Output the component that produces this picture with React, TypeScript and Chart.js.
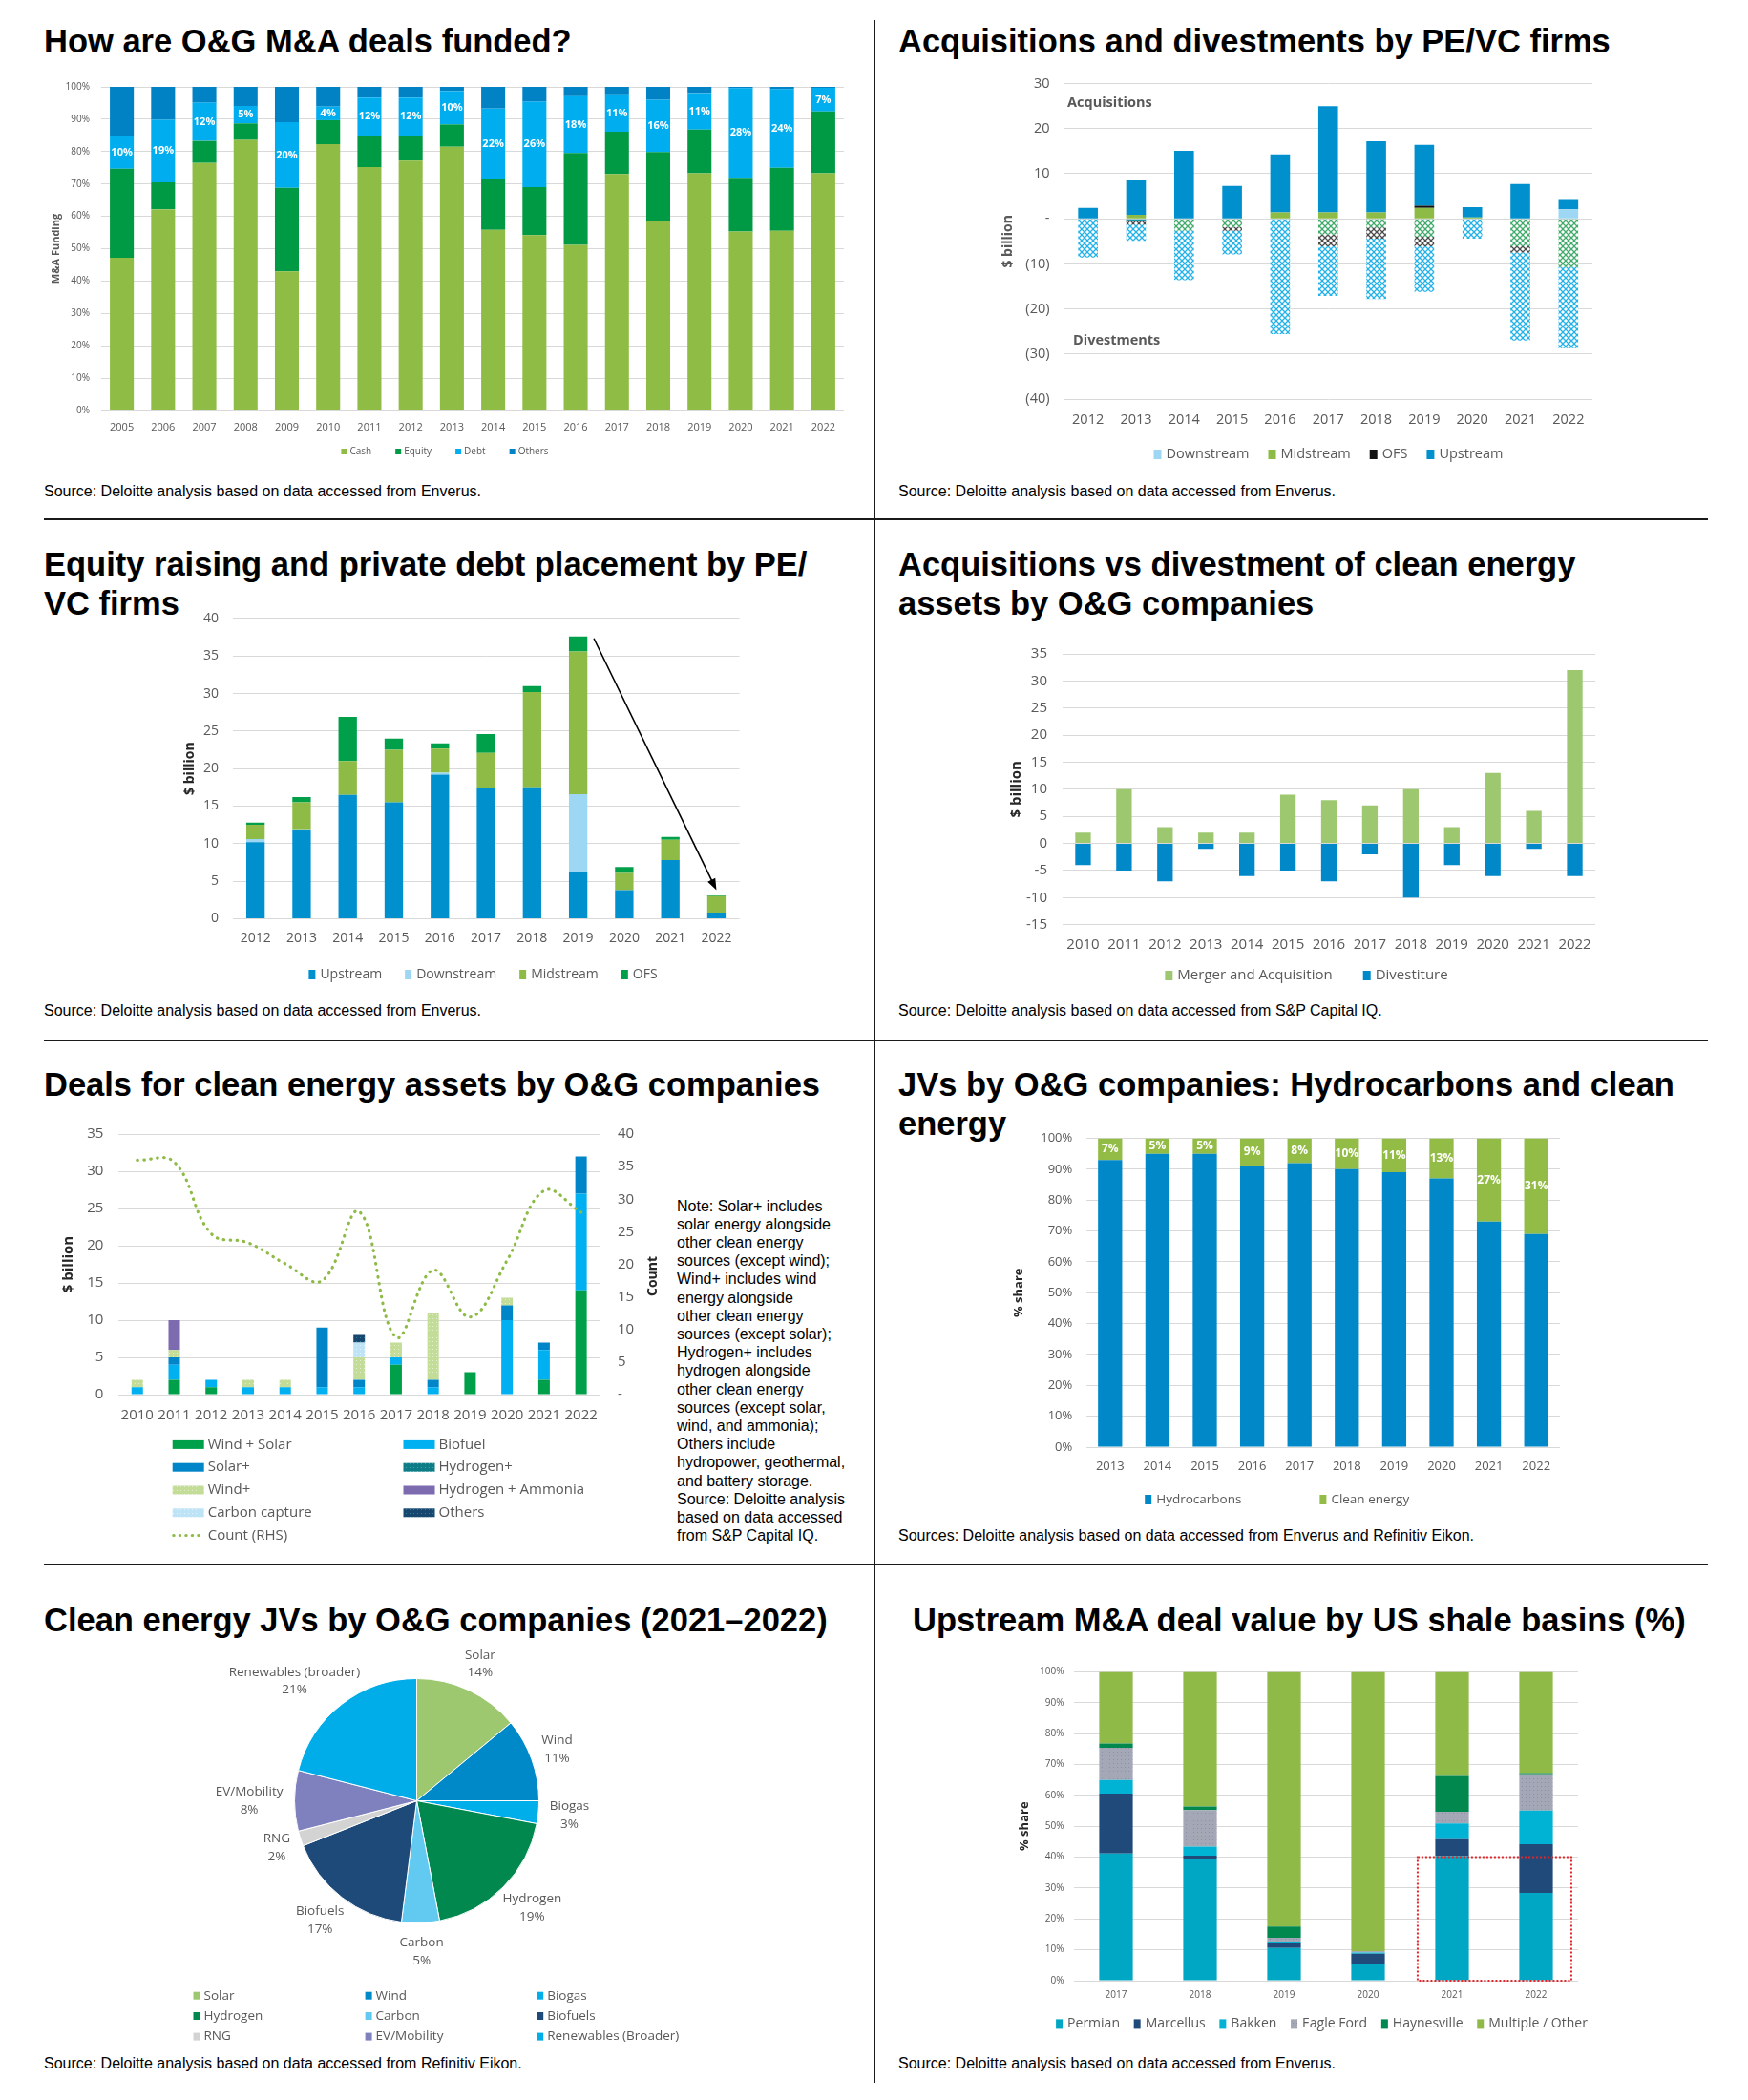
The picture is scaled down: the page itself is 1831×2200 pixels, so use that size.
import React, { useEffect, useRef } from 'react';
import { Chart, registerables } from 'chart.js';

Chart.register(...registerables);

const FONT = '"Open Sans", "Noto Sans", sans-serif';
Chart.defaults.font.family = FONT;

const TICK = '#595959';
const GRID = '#D9D9D9';
const AXT = '#262626';

// ---------------- Chart 1: How are O&G M&A deals funded? ----------------
const fundYears = ['2005', '2006', '2007', '2008', '2009', '2010', '2011', '2012', '2013', '2014', '2015', '2016', '2017', '2018', '2019', '2020', '2021', '2022'];
const fundCash = [47.2, 62.2, 76.5, 83.6, 43.0, 82.3, 75.2, 77.2, 81.5, 55.8, 54.2, 51.2, 73.1, 58.4, 73.3, 55.3, 55.5, 73.3];
const fundEquity = [27.5, 8.3, 6.8, 5.1, 25.8, 7.4, 9.7, 7.6, 6.9, 15.7, 14.8, 28.4, 13.0, 21.5, 13.5, 16.6, 19.5, 19.1];
const fundDebt = [10.1, 19.3, 11.8, 5.4, 20.3, 4.2, 11.8, 11.9, 10.3, 21.8, 26.4, 17.5, 11.3, 16.1, 11.3, 27.7, 24.3, 7.3];
const fundOthers = [15.2, 10.2, 4.9, 5.9, 10.9, 6.1, 3.3, 3.3, 1.3, 6.7, 4.6, 2.9, 2.6, 4.0, 1.9, 0.4, 0.7, 0.3];
const fundDebtLabels = ['10%', '19%', '12%', '5%', '20%', '4%', '12%', '12%', '10%', '22%', '26%', '18%', '11%', '16%', '11%', '28%', '24%', '7%'];

// ---------------- Chart 2: Acquisitions and divestments by PE/VC firms ----------------
const peYears = ['2012', '2013', '2014', '2015', '2016', '2017', '2018', '2019', '2020', '2021', '2022'];
const acqDownstream = [0, 0, 0, 0, 0, 0, 0, 0, 0, 0, 2.1];
const acqMidstream = [0, 0.9, 0, 0, 1.4, 1.4, 1.4, 2.4, 0.3, 0, 0];
const acqOFS = [0, 0, 0, 0, 0, 0, 0, 0.5, 0, 0, 0];
const acqUpstream = [2.4, 7.6, 15.1, 7.3, 12.9, 23.6, 15.8, 13.5, 2.3, 7.7, 2.3];
const divDownstream = [0, -0.6, 0, 0, 0, 0, 0, 0, 0, 0, 0];
const divMidstream = [0, 0, -2.6, -1.8, 0, -3.5, -1.9, -4.0, 0, -6.1, -10.7];
const divOFS = [0, -0.7, 0, -0.85, 0, -2.6, -2.5, -2.1, 0, -1.4, 0];
const divUpstream = [-8.6, -3.6, -11.0, -5.25, -25.6, -11.0, -13.4, -10.1, -4.4, -19.5, -18.0];

// ---------------- Chart 3: Equity raising and private debt placement ----------------
const raiseYears = ['2012', '2013', '2014', '2015', '2016', '2017', '2018', '2019', '2020', '2021', '2022'];
const raiseUpstream = [10.2, 11.8, 16.5, 15.5, 19.2, 17.4, 17.5, 6.2, 3.8, 7.8, 0.8];
const raiseDownstream = [0.4, 0.1, 0, 0, 0.25, 0, 0, 10.4, 0, 0, 0];
const raiseMidstream = [1.9, 3.6, 4.5, 7.0, 3.2, 4.7, 12.7, 19.0, 2.3, 2.7, 2.2];
const raiseOFS = [0.3, 0.7, 5.9, 1.5, 0.7, 2.5, 0.8, 2.0, 0.8, 0.4, 0.1];

// ---------------- Chart 4: Acquisitions vs divestment of clean energy assets ----------------
const cleanYears = ['2010', '2011', '2012', '2013', '2014', '2015', '2016', '2017', '2018', '2019', '2020', '2021', '2022'];
const cleanMA = [2, 10, 3, 2, 2, 9, 8, 7, 10, 3, 13, 6, 32];
const cleanDiv = [-4, -5, -7, -1, -6, -5, -7, -2, -10, -4, -6, -1, -6];

// ---------------- Chart 5: Deals for clean energy assets ----------------
const dealYears = ['2010', '2011', '2012', '2013', '2014', '2015', '2016', '2017', '2018', '2019', '2020', '2021', '2022'];
const dealWindSolar = [0, 2, 1, 0, 0, 0, 0, 4, 0, 3, 0, 2, 14];
const dealBiofuel = [1, 2, 1, 1, 1, 1, 1, 1, 1, 0, 10, 4, 13];
const dealSolarPlus = [0, 1, 0, 0, 0, 8, 1, 0, 1, 0, 2, 1, 5];
const dealHydrogenPlus = [0, 0, 0, 0, 0, 0, 0, 0, 0, 0, 0, 0, 0];
const dealWindPlus = [1, 1, 0, 1, 1, 0, 3, 2, 9, 0, 1, 0, 0];
const dealH2Ammonia = [0, 4, 0, 0, 0, 0, 0, 0, 0, 0, 0, 0, 0];
const dealCarbon = [0, 0, 0, 0, 0, 0, 2, 0, 0, 0, 0, 0, 0];
const dealOthers = [0, 0, 0, 0, 0, 0, 1, 0, 0, 0, 0, 0, 0];
const dealCount = [36, 35.7, 24.7, 23.3, 20.1, 17.5, 28.1, 8.8, 19.1, 11.9, 20.6, 31.3, 28.0];

// ---------------- Chart 6: JVs by O&G companies ----------------
const jvYears = ['2013', '2014', '2015', '2016', '2017', '2018', '2019', '2020', '2021', '2022'];
const jvHydro = [93, 95, 95, 91, 92, 90, 89, 87, 73, 69];
const jvClean = [7, 5, 5, 9, 8, 10, 11, 13, 27, 31];

// ---------------- Chart 7: Clean energy JVs (2021-2022) ----------------
const pieLabels = ['Solar', 'Wind', 'Biogas', 'Hydrogen', 'Carbon', 'Biofuels', 'RNG', 'EV/Mobility', 'Renewables (broader)'];
const pieLegendLabels = ['Solar', 'Wind', 'Biogas', 'Hydrogen', 'Carbon', 'Biofuels', 'RNG', 'EV/Mobility', 'Renewables (Broader)'];
const pieValues = [14, 11, 3, 19, 5, 17, 2, 8, 21];
const pieColors = ['#9DC870', '#0089C9', '#00AEEA', '#00884E', '#62CAF0', '#1E4A7A', '#D3D3D3', '#7F81BF', '#00ADE8'];

// ---------------- Chart 8: Upstream M&A deal value by US shale basins ----------------
const basinYears = ['2017', '2018', '2019', '2020', '2021', '2022'];
const basinPermian = [41.2, 39.5, 10.6, 5.3, 40.3, 28.4];
const basinMarcellus = [19.4, 1.0, 1.5, 3.4, 5.5, 15.8];
const basinBakken = [4.4, 2.9, 0.6, 0.4, 5.1, 10.9];
const basinEagleFord = [10.4, 11.8, 1.2, 0.5, 3.8, 11.7];
const basinHaynesville = [1.4, 1.2, 3.6, 0, 11.6, 0.4];
const basinOther = [23.2, 43.6, 82.5, 90.4, 33.7, 32.8];

// ====================== helpers ======================
type Box = { x: number; y: number; w: number; h: number };
type Plot = { l: number; t: number; r: number; b: number };
type YOpt = {
  min: number; max: number; step: number; size: number; pad: number;
  fmt?: (v: number) => string;
  title?: { text: string; size: number; x: number; color: string };
};

function hatch(color: string, size = 6, lw = 1.3): any {
  const c = document.createElement('canvas');
  c.width = size; c.height = size;
  const g = c.getContext('2d');
  if (!g) return color;
  g.fillStyle = '#ffffff'; g.fillRect(0, 0, size, size);
  g.strokeStyle = color; g.lineWidth = lw;
  g.beginPath();
  g.moveTo(-1, -1); g.lineTo(size + 1, size + 1);
  g.moveTo(size + 1, -1); g.lineTo(-1, size + 1);
  g.stroke();
  return g.createPattern(c, 'repeat') || color;
}

function dots(bg: string, fg: string, size = 4): any {
  const c = document.createElement('canvas');
  c.width = size; c.height = size;
  const g = c.getContext('2d');
  if (!g) return bg;
  g.fillStyle = bg; g.fillRect(0, 0, size, size);
  g.fillStyle = fg; g.fillRect(1, 1, 1, 1);
  return g.createPattern(c, 'repeat') || bg;
}

function valueAxis(y: YOpt, width: number, originX: number, position: string, stacked: boolean) {
  const ticks: any = { stepSize: y.step, color: TICK, padding: y.pad, font: { size: y.size, family: FONT } };
  if (y.fmt) { const f = y.fmt; ticks.callback = (v: any) => f(Number(v)); }
  const ax: any = {
    type: 'linear', position, stacked, min: y.min, max: y.max,
    grid: { display: position === 'left', color: GRID, lineWidth: 1, drawTicks: false },
    border: { display: false },
    ticks,
    afterFit: (s: any) => { s.width = width; },
  };
  if (y.title) {
    const lh = y.title.size * 1.2;
    const off = position === 'left' ? y.title.x - originX - lh / 2 : originX - y.title.x - lh / 2;
    ax.title = { display: true, text: y.title.text, color: y.title.color, font: { size: y.title.size, weight: 'bold', family: FONT }, padding: { top: off, bottom: 0 } };
  }
  return ax;
}

function catAxis(size: number, pad: number, height: number) {
  return {
    type: 'category', stacked: true,
    grid: { display: false, drawTicks: false }, border: { display: false },
    ticks: { color: TICK, padding: pad, font: { size, family: FONT }, maxRotation: 0, minRotation: 0, autoSkip: false },
    afterFit: (s: any) => { s.height = height; },
  };
}

function barChart(box: Box, plot: Plot, labels: string[], datasets: any[], xs: { size: number; pad: number }, y: YOpt, plugins: any[], y1?: { opt: YOpt; w: number }) {
  const scales: any = {
    x: catAxis(xs.size, xs.pad, box.y + box.h - plot.b),
    y: valueAxis(y, plot.l - box.x, box.x, 'left', true),
  };
  let rw = 0;
  if (y1) { rw = y1.w; scales.y1 = valueAxis(y1.opt, y1.w, box.x + box.w, 'right', false); }
  return {
    type: 'bar',
    data: { labels, datasets },
    options: {
      responsive: false, animation: false, events: [],
      layout: { padding: { left: 0, top: plot.t - box.y, right: box.x + box.w - plot.r - rw, bottom: 0 } },
      plugins: { legend: { display: false }, tooltip: { enabled: false }, title: { display: false } },
      scales,
    },
    plugins,
  };
}

type LItem = { text: string; fill?: any; line?: { color: string; dash: number[]; width: number } };
type LOpt = { origin: [number, number]; size: number; box: [number, number]; tg: number; gap?: number; cx?: number; cy?: number; cols?: number[]; rows?: number[] };

function legendPlugin(items: LItem[], o: LOpt) {
  return {
    id: 'pageLegend',
    afterDraw(chart: any) {
      const ctx = chart.ctx;
      ctx.save();
      ctx.font = `${o.size}px ${FONT}`;
      ctx.textBaseline = 'middle';
      ctx.textAlign = 'left';
      const [bw, bh] = o.box;
      const draw = (it: LItem, x: number, y: number) => {
        if (it.line) {
          ctx.save();
          ctx.strokeStyle = it.line.color; ctx.lineWidth = it.line.width; ctx.lineCap = 'round';
          ctx.setLineDash(it.line.dash);
          ctx.beginPath(); ctx.moveTo(x + 1, y); ctx.lineTo(x + bw, y); ctx.stroke();
          ctx.restore();
        } else {
          ctx.fillStyle = it.fill; ctx.fillRect(x, y - bh / 2, bw, bh);
        }
        ctx.fillStyle = TICK;
        ctx.fillText(it.text, x + bw + o.tg, y);
      };
      if (o.cols && o.rows) {
        const n = o.cols.length;
        items.forEach((it, i) => draw(it, o.cols![i % n] - o.origin[0], o.rows![Math.floor(i / n)] - o.origin[1]));
      } else {
        const gap = o.gap || 0;
        const widths = items.map((it) => bw + o.tg + ctx.measureText(it.text).width);
        const total = widths.reduce((a, b) => a + b, 0) + gap * (items.length - 1);
        let x = (o.cx || 0) - o.origin[0] - total / 2;
        const y = (o.cy || 0) - o.origin[1];
        items.forEach((it, i) => { draw(it, x, y); x += widths[i] + gap; });
      }
      ctx.restore();
    },
  };
}

function segLabels(dsIndex: number, labels: string[], size: number) {
  return {
    id: 'segLabels',
    afterDatasetsDraw(chart: any) {
      const meta = chart.getDatasetMeta(dsIndex);
      const ctx = chart.ctx;
      ctx.save();
      ctx.font = `bold ${size}px ${FONT}`;
      ctx.fillStyle = '#ffffff';
      ctx.textAlign = 'center';
      ctx.textBaseline = 'middle';
      meta.data.forEach((el: any, i: number) => {
        const p = el.getProps(['x', 'y', 'base'], true);
        ctx.fillText(labels[i], p.x, (p.y + p.base) / 2);
      });
      ctx.restore();
    },
  };
}

function textPlugin(origin: [number, number], items: { text: string; x: number; y: number; font: string; color: string; rot?: number; align?: string }[]) {
  return {
    id: 'pageTexts',
    afterDraw(chart: any) {
      const ctx = chart.ctx;
      items.forEach((t) => {
        ctx.save();
        ctx.font = t.font; ctx.fillStyle = t.color;
        ctx.textAlign = t.align || 'center'; ctx.textBaseline = 'middle';
        ctx.translate(t.x - origin[0], t.y - origin[1]);
        if (t.rot) ctx.rotate(t.rot);
        ctx.fillText(t.text, 0, 0);
        ctx.restore();
      });
    },
  };
}

function annotPlugin(items: { text: string; value: number; dx: number }[], font: string, color: string) {
  return {
    id: 'annot',
    afterDraw(chart: any) {
      const ctx = chart.ctx;
      ctx.save();
      ctx.font = font; ctx.fillStyle = color; ctx.textAlign = 'left'; ctx.textBaseline = 'middle';
      items.forEach((t) => ctx.fillText(t.text, chart.chartArea.left + t.dx, chart.scales.y.getPixelForValue(t.value)));
      ctx.restore();
    },
  };
}

function arrowPlugin(from: number, to: number, tops: number[]) {
  return {
    id: 'arrow',
    afterDatasetsDraw(chart: any) {
      const xs = chart.scales.x, ys = chart.scales.y, ctx = chart.ctx;
      const step = xs.getPixelForValue(1) - xs.getPixelForValue(0);
      const x0 = xs.getPixelForValue(from) + step * 0.34;
      const y0 = ys.getPixelForValue(tops[from]) + 2;
      const x1 = xs.getPixelForValue(to);
      const y1 = ys.getPixelForValue(tops[to] + 0.7);
      const a = Math.atan2(y1 - y0, x1 - x0);
      const L = 12, W = 4.5, c = Math.cos(a), s = Math.sin(a);
      ctx.save();
      ctx.strokeStyle = '#000'; ctx.lineWidth = 1.6;
      ctx.beginPath(); ctx.moveTo(x0, y0); ctx.lineTo(x1 - L * 0.8 * c, y1 - L * 0.8 * s); ctx.stroke();
      ctx.fillStyle = '#000';
      ctx.beginPath();
      ctx.moveTo(x1, y1);
      ctx.lineTo(x1 - L * c - W * s, y1 - L * s + W * c);
      ctx.lineTo(x1 - L * c + W * s, y1 - L * s - W * c);
      ctx.closePath(); ctx.fill();
      ctx.restore();
    },
  };
}

function dashedRect(i0: number, i1: number, v0: number, v1: number) {
  return {
    id: 'dashedRect',
    afterDatasetsDraw(chart: any) {
      const xs = chart.scales.x, ys = chart.scales.y, ctx = chart.ctx;
      const step = xs.getPixelForValue(1) - xs.getPixelForValue(0);
      const xa = xs.getPixelForValue(i0) - 0.41 * step;
      const xb = xs.getPixelForValue(i1) + 0.42 * step;
      const ya = ys.getPixelForValue(v1);
      const yb = ys.getPixelForValue(v0);
      ctx.save();
      ctx.strokeStyle = '#E0262B'; ctx.lineWidth = 2; ctx.setLineDash([2, 2]);
      ctx.strokeRect(xa, ya, xb - xa, yb - ya);
      ctx.restore();
    },
  };
}

function pieLabelPlugin(names: string[], values: number[], size: number) {
  return {
    id: 'pieLabels',
    afterDatasetsDraw(chart: any) {
      const meta = chart.getDatasetMeta(0);
      const ctx = chart.ctx;
      ctx.save();
      ctx.font = `${size}px ${FONT}`;
      ctx.fillStyle = TICK; ctx.textAlign = 'center'; ctx.textBaseline = 'middle';
      meta.data.forEach((el: any, i: number) => {
        const p = el.getProps(['x', 'y', 'startAngle', 'endAngle', 'outerRadius'], true);
        const a = (p.startAngle + p.endAngle) / 2;
        const c = Math.cos(a), s = Math.sin(a);
        const l1 = names[i], l2 = values[i] + '%';
        const w = Math.max(ctx.measureText(l1).width, ctx.measureText(l2).width);
        const h = 37;
        const R = p.outerRadius + 12;
        const cx = p.x + R * c + (w / 2) * c;
        const cy = p.y + R * s + (h / 2) * s;
        ctx.fillText(l1, cx, cy - 9.3);
        ctx.fillText(l2, cx, cy + 9.3);
      });
      ctx.restore();
    },
  };
}

const pct = (v: number) => v + '%';
const dsItems = (ds: any[]) => ds.map((d) => ({ text: d.label, fill: d.backgroundColor }));

// ====================== chart factories ======================
const c1Box: Box = { x: 0, y: 70, w: 916, h: 420 };
function makeC1() {
  const ds = [
    { label: 'Cash', data: fundCash, backgroundColor: '#8FBC45' },
    { label: 'Equity', data: fundEquity, backgroundColor: '#009A44' },
    { label: 'Debt', data: fundDebt, backgroundColor: '#00AEEF' },
    { label: 'Others', data: fundOthers, backgroundColor: '#0082C4' },
  ].map((d) => ({ ...d, barPercentage: 0.58, categoryPercentage: 1, borderWidth: 0 }));
  return barChart(c1Box, { l: 106, t: 91, r: 884, b: 430 }, fundYears, ds, { size: 11, pad: 11.4 },
    { min: 0, max: 100, step: 10, size: 10, pad: 12, fmt: pct, title: { text: 'M&A Funding', size: 11, x: 59, color: TICK } },
    [segLabels(2, fundDebtLabels, 11), legendPlugin(dsItems(ds), { origin: [c1Box.x, c1Box.y], size: 10, box: [6, 6], tg: 3, gap: 25, cx: 466, cy: 473 })]);
}

const c2Box: Box = { x: 917, y: 60, w: 914, h: 430 };
function makeC2() {
  const pos = [
    { label: 'Downstream', data: acqDownstream, backgroundColor: '#9DD7F3' },
    { label: 'Midstream', data: acqMidstream, backgroundColor: '#8DBB45' },
    { label: 'OFS', data: acqOFS, backgroundColor: '#111111' },
    { label: 'Upstream', data: acqUpstream, backgroundColor: '#0090CD' },
  ];
  const neg = [
    { label: 'Downstream divestments', data: divDownstream, backgroundColor: '#1597A9' },
    { label: 'Midstream divestments', data: divMidstream, backgroundColor: hatch('#3FAA6A') },
    { label: 'OFS divestments', data: divOFS, backgroundColor: hatch('#4A4A4A') },
    { label: 'Upstream divestments', data: divUpstream, backgroundColor: hatch('#22B2E8') },
  ];
  const ds = [...pos, ...neg].map((d) => ({ ...d, stack: 's', barPercentage: 0.41, categoryPercentage: 1, borderWidth: 0 }));
  return barChart(c2Box, { l: 1114.5, t: 87.6, r: 1668, b: 418 }, peYears, ds, { size: 14.5, pad: 13.6 },
    {
      min: -40, max: 30, step: 10, size: 14.5, pad: 15,
      fmt: (v) => (v === 0 ? '-' : v < 0 ? `(${-v})` : `${v}`),
      title: { text: '$ billion', size: 14, x: 1056, color: TICK },
    },
    [
      annotPlugin([{ text: 'Acquisitions', value: 25.6, dx: 3.5 }, { text: 'Divestments', value: -27, dx: 9.5 }], `bold 14.5px ${FONT}`, TICK),
      legendPlugin(dsItems(pos), { origin: [c2Box.x, c2Box.y], size: 14.5, box: [8, 10], tg: 5, gap: 20, cx: 1391.5, cy: 476 }),
    ]);
}

const c3Box: Box = { x: 0, y: 625, w: 916, h: 410 };
function makeC3() {
  const ds = [
    { label: 'Upstream', data: raiseUpstream, backgroundColor: '#0090CD' },
    { label: 'Downstream', data: raiseDownstream, backgroundColor: '#9DD7F3' },
    { label: 'Midstream', data: raiseMidstream, backgroundColor: '#8DBB45' },
    { label: 'OFS', data: raiseOFS, backgroundColor: '#00A04A' },
  ].map((d) => ({ ...d, barPercentage: 0.40, categoryPercentage: 1, borderWidth: 0 }));
  const tops = raiseYears.map((_, i) => raiseUpstream[i] + raiseDownstream[i] + raiseMidstream[i] + raiseOFS[i]);
  return barChart(c3Box, { l: 243.5, t: 644.3, r: 774.6, b: 962.4 }, raiseYears, ds, { size: 14, pad: 12.2 },
    { min: 0, max: 40, step: 5, size: 14, pad: 14.5, title: { text: '$ billion', size: 14, x: 199.5, color: AXT } },
    [arrowPlugin(7, 10, tops), legendPlugin(dsItems(ds), { origin: [c3Box.x, c3Box.y], size: 14, box: [7, 10], tg: 5, gap: 24, cx: 506, cy: 1021 })]);
}

const c4Box: Box = { x: 917, y: 660, w: 914, h: 375 };
function makeC4() {
  const ds = [
    { label: 'Merger and Acquisition', data: cleanMA, backgroundColor: '#9DC870' },
    { label: 'Divestiture', data: cleanDiv, backgroundColor: '#0088C8' },
  ].map((d) => ({ ...d, barPercentage: 0.38, categoryPercentage: 1, borderWidth: 0 }));
  return barChart(c4Box, { l: 1113, t: 680, r: 1671, b: 968.7 }, cleanYears, ds, { size: 15, pad: 12.3 },
    { min: -15, max: 35, step: 5, size: 15, pad: 16, title: { text: '$ billion', size: 15, x: 1065, color: AXT } },
    [legendPlugin(dsItems(ds), { origin: [c4Box.x, c4Box.y], size: 15, box: [8, 10], tg: 5, gap: 32, cx: 1368.5, cy: 1022 })]);
}

const c5Box: Box = { x: 0, y: 1160, w: 710, h: 465 };
function makeC5() {
  const bars = [
    { label: 'Wind + Solar', data: dealWindSolar, backgroundColor: '#00A04A' },
    { label: 'Biofuel', data: dealBiofuel, backgroundColor: '#00B0F0' },
    { label: 'Solar+', data: dealSolarPlus, backgroundColor: '#0085C8' },
    { label: 'Hydrogen+', data: dealHydrogenPlus, backgroundColor: dots('#0E7C86', '#3FA6AE') },
    { label: 'Wind+', data: dealWindPlus, backgroundColor: dots('#C3DC98', '#E4EFD0') },
    { label: 'Hydrogen + Ammonia', data: dealH2Ammonia, backgroundColor: '#7C6BAF' },
    { label: 'Carbon capture', data: dealCarbon, backgroundColor: dots('#BDE3F6', '#E3F3FB') },
    { label: 'Others', data: dealOthers, backgroundColor: dots('#17466E', '#2F7E9C') },
  ].map((d) => ({ ...d, order: 1, barPercentage: 0.31, categoryPercentage: 1, borderWidth: 0 }));
  const lineColor = '#8DBB45';
  const lineDash = [0.5, 6.5];
  const line = {
    type: 'line', label: 'Count (RHS)', data: dealCount, yAxisID: 'y1', order: 0,
    borderColor: lineColor, borderWidth: 3.2, borderDash: lineDash, borderCapStyle: 'round',
    pointRadius: 0, tension: 0.4, fill: false, backgroundColor: lineColor,
  };
  const items: LItem[] = [...dsItems(bars), { text: 'Count (RHS)', line: { color: lineColor, dash: [0.5, 6], width: 3 } }];
  return barChart(c5Box, { l: 124.4, t: 1179, r: 628, b: 1461 }, dealYears, [...bars, line], { size: 15, pad: 12.6 },
    { min: 0, max: 35, step: 5, size: 15, pad: 16, title: { text: '$ billion', size: 15, x: 71.6, color: AXT } },
    [
      textPlugin([c5Box.x, c5Box.y], [{ text: 'Count', x: 683.7, y: 1337, font: `bold 14px ${FONT}`, color: AXT, rot: -Math.PI / 2 }]),
      legendPlugin(items, { origin: [c5Box.x, c5Box.y], size: 15, box: [33, 9], tg: 4, cols: [180.7, 422.5], rows: [1513.4, 1537.2, 1561, 1584.8, 1608.6] }),
    ],
    { opt: { min: 0, max: 40, step: 5, size: 15, pad: 19, fmt: (v) => (v === 0 ? '-' : `${v}`) }, w: 82 });
}

const c6Box: Box = { x: 917, y: 1170, w: 914, h: 415 };
function makeC6() {
  const ds = [
    { label: 'Hydrocarbons', data: jvHydro, backgroundColor: '#0088C8' },
    { label: 'Clean energy', data: jvClean, backgroundColor: '#92BC46' },
  ].map((d) => ({ ...d, barPercentage: 0.51, categoryPercentage: 1, borderWidth: 0 }));
  return barChart(c6Box, { l: 1138, t: 1189.7, r: 1634, b: 1516 }, jvYears, ds, { size: 13, pad: 12.2 },
    { min: 0, max: 100, step: 10, size: 13, pad: 14.7, fmt: pct, title: { text: '% share', size: 13, x: 1067.6, color: AXT } },
    [segLabels(1, jvClean.map(pct), 12), legendPlugin(dsItems(ds), { origin: [c6Box.x, c6Box.y], size: 13.5, box: [7, 10], tg: 5, gap: 82, cx: 1337.7, cy: 1571 })]);
}

const c7Box: Box = { x: 60, y: 1706, w: 753, h: 439 };
function makeC7() {
  const items = pieLegendLabels.map((t, i) => ({ text: t, fill: pieColors[i] }));
  return {
    type: 'pie',
    data: {
      labels: pieLabels,
      datasets: [{ data: pieValues, backgroundColor: pieColors, borderColor: '#ffffff', borderWidth: 1, radius: 128, hoverOffset: 0 }],
    },
    options: {
      responsive: false, animation: false, events: [],
      layout: { padding: { left: 0, right: 0, top: 0, bottom: 78 } },
      plugins: { legend: { display: false }, tooltip: { enabled: false } },
    },
    plugins: [
      pieLabelPlugin(pieLabels, pieValues, 13.5),
      legendPlugin(items, { origin: [c7Box.x, c7Box.y], size: 13.5, box: [7, 8], tg: 4, cols: [202.5, 382.6, 562.2], rows: [2090.7, 2112, 2133.6] }),
    ],
  };
}

const c8Box: Box = { x: 917, y: 1730, w: 914, h: 405 };
function makeC8() {
  const ds = [
    { label: 'Permian', data: basinPermian, backgroundColor: '#00A7C4' },
    { label: 'Marcellus', data: basinMarcellus, backgroundColor: '#1F4A7A' },
    { label: 'Bakken', data: basinBakken, backgroundColor: '#00B2D4' },
    { label: 'Eagle Ford', data: basinEagleFord, backgroundColor: dots('#A4A7B6', '#8C8FA8') },
    { label: 'Haynesville', data: basinHaynesville, backgroundColor: '#00884F' },
    { label: 'Multiple / Other', data: basinOther, backgroundColor: '#8FBA48' },
  ].map((d) => ({ ...d, barPercentage: 0.40, categoryPercentage: 1, borderWidth: 0 }));
  return barChart(c8Box, { l: 1125, t: 1751.4, r: 1653, b: 2075 }, basinYears, ds, { size: 10, pad: 9 },
    { min: 0, max: 100, step: 10, size: 10, pad: 10.5, fmt: pct, title: { text: '% share', size: 13, x: 1073.4, color: AXT } },
    [dashedRect(4, 5, 0, 40), legendPlugin(dsItems(ds), { origin: [c8Box.x, c8Box.y], size: 14, box: [7, 10], tg: 5, gap: 14.7, cx: 1384.5, cy: 2120.4 })]);
}

const charts: { box: Box; make: () => any }[] = [
  { box: c1Box, make: makeC1 },
  { box: c2Box, make: makeC2 },
  { box: c3Box, make: makeC3 },
  { box: c4Box, make: makeC4 },
  { box: c5Box, make: makeC5 },
  { box: c6Box, make: makeC6 },
  { box: c7Box, make: makeC7 },
  { box: c8Box, make: makeC8 },
];

// ====================== page text ======================
const titles: { lines: string[]; x: number; y: number }[] = [
  { lines: ['How are O&G M&A deals funded?'], x: 46, y: 22.5 },
  { lines: ['Acquisitions and divestments by PE/VC firms'], x: 941, y: 22.5 },
  { lines: ['Equity raising and private debt placement by PE/', 'VC firms'], x: 46, y: 570.5 },
  { lines: ['Acquisitions vs divestment of clean energy', 'assets by O&G companies'], x: 941, y: 570.5 },
  { lines: ['Deals for clean energy assets by O&G companies'], x: 46, y: 1116 },
  { lines: ['JVs by O&G companies: Hydrocarbons and clean', 'energy'], x: 941, y: 1116 },
  { lines: ['Clean energy JVs by O&G companies (2021–2022)'], x: 46, y: 1677 },
  { lines: ['Upstream M&A deal value by US shale basins (%)'], x: 956, y: 1677 },
];

const sources: { text: string; x: number; y: number }[] = [
  { text: 'Source: Deloitte analysis based on data accessed from Enverus.', x: 46, y: 505 },
  { text: 'Source: Deloitte analysis based on data accessed from Enverus.', x: 941, y: 505 },
  { text: 'Source: Deloitte analysis based on data accessed from Enverus.', x: 46, y: 1049.3 },
  { text: 'Source: Deloitte analysis based on data accessed from S&P Capital IQ.', x: 941, y: 1049.3 },
  { text: 'Sources: Deloitte analysis based on data accessed from Enverus and Refinitiv Eikon.', x: 941, y: 1599.3 },
  { text: 'Source: Deloitte analysis based on data accessed from Refinitiv Eikon.', x: 46, y: 2151.7 },
  { text: 'Source: Deloitte analysis based on data accessed from Enverus.', x: 941, y: 2151.7 },
];

const noteLines = [
  'Note: Solar+ includes', 'solar energy alongside', 'other clean energy', 'sources (except wind);',
  'Wind+ includes wind', 'energy alongside', 'other clean energy', 'sources (except solar);',
  'Hydrogen+ includes', 'hydrogen alongside', 'other clean energy', 'sources (except solar,',
  'wind, and ammonia);', 'Others include', 'hydropower, geothermal,', 'and battery storage.',
  'Source: Deloitte analysis', 'based on data accessed', 'from S&P Capital IQ.',
];

const SANS = '"Liberation Sans", Arial, Helvetica, sans-serif';

function ChartCanvas({ box, make }: { box: Box; make: () => any }) {
  const ref = useRef<HTMLCanvasElement | null>(null);
  useEffect(() => {
    if (!ref.current) return;
    const chart = new Chart(ref.current, make());
    return () => { chart.destroy(); };
  }, [make]);
  return (
    <canvas
      ref={ref}
      width={box.w}
      height={box.h}
      style={{ position: 'absolute', left: box.x, top: box.y, width: box.w, height: box.h }}
    />
  );
}

export default function App() {
  const line = (l: number, t: number, w: number, h: number, key: string) => (
    <div key={key} style={{ position: 'absolute', left: l, top: t, width: w, height: h, background: '#1a1a1a' }} />
  );
  return (
    <div style={{ position: 'absolute', left: 0, top: 0, width: 1831, height: 2200, background: '#ffffff', overflow: 'hidden' }}>
      {line(915, 21, 2, 2161, 'v')}
      {line(46, 543, 1743, 2, 'h1')}
      {line(46, 1089, 1743, 2, 'h2')}
      {line(46, 1638, 1743, 2, 'h3')}
      {titles.map((t, i) => (
        <div key={'t' + i} style={{ position: 'absolute', left: t.x, top: t.y, font: `bold 34.5px ${SANS}`, lineHeight: '41px', color: '#000', whiteSpace: 'nowrap' }}>
          {t.lines.map((l, j) => <div key={j}>{l}</div>)}
        </div>
      ))}
      {sources.map((s, i) => (
        <div key={'s' + i} style={{ position: 'absolute', left: s.x, top: s.y, font: `16px ${SANS}`, lineHeight: '19px', color: '#000', whiteSpace: 'nowrap' }}>
          {s.text}
        </div>
      ))}
      <div style={{ position: 'absolute', left: 709, top: 1253.5, font: `16px ${SANS}`, lineHeight: '19.2px', color: '#000', whiteSpace: 'nowrap' }}>
        {noteLines.map((l, j) => <div key={j}>{l}</div>)}
      </div>
      {charts.map((c, i) => <ChartCanvas key={'c' + i} box={c.box} make={c.make} />)}
    </div>
  );
}
